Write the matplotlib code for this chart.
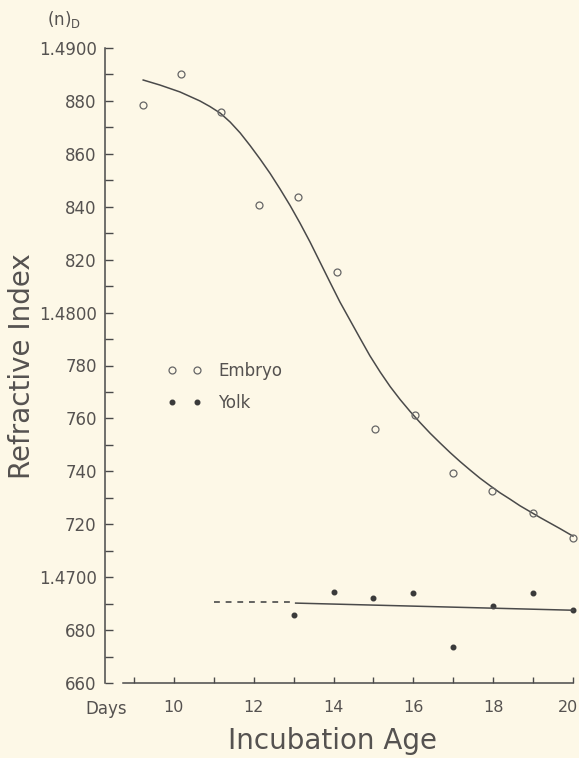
import matplotlib
matplotlib.use("Agg")
import matplotlib.pyplot as plt
from matplotlib.transforms import ScaledTranslation

# Embryo measurements (open circles)
embryo_days = [9.22, 10.17, 11.18, 12.12, 13.12, 14.08, 15.03, 16.05, 17.0, 17.98, 19.0, 20.0]
embryo_ri = [1.48784, 1.48902, 1.48758, 1.48406, 1.48437, 1.48153,
             1.47560, 1.47613, 1.47393, 1.47325, 1.47242, 1.47148]

# Smooth curve drawn through the embryo values
curve_days = [9.23, 9.65, 10.15, 10.65, 10.90, 11.16, 11.41, 11.66, 11.91, 12.16,
              12.41, 12.66, 12.91, 13.16, 13.41, 13.66, 13.91, 14.16, 14.41, 14.66,
              14.91, 15.17, 15.42, 15.67, 15.92, 16.17, 16.42, 16.67, 16.92, 17.17,
              17.42, 17.67, 17.92, 18.17, 18.42, 18.67, 18.92, 19.18, 19.43, 19.68,
              20.0]
curve_ri = [1.48879, 1.48860, 1.48834, 1.48800, 1.48779, 1.48754, 1.48720, 1.48679,
            1.48631, 1.48580, 1.48526, 1.48467, 1.48405, 1.48338, 1.48267, 1.48191,
            1.48115, 1.48040, 1.47972, 1.47904, 1.47837, 1.47775, 1.47720, 1.47671,
            1.47626, 1.47584, 1.47544, 1.47507, 1.47471, 1.47437, 1.47405, 1.47374,
            1.47346, 1.47319, 1.47295, 1.47270, 1.47248, 1.47225, 1.47204, 1.47183,
            1.47155]

# Yolk measurements (filled dots)
yolk_days = [13, 14, 15, 16, 17, 18, 19, 20]
yolk_ri = [1.46856, 1.46943, 1.46921, 1.46940, 1.46735, 1.46890, 1.46940, 1.46875]

# Yolk fit line: dashed part and solid part
yolk_dash_days = [11.0, 13.0]
yolk_dash_ri = [1.46905, 1.46905]
yolk_fit_days = [13.05, 20.0]
yolk_fit_ri = [1.46902, 1.46875]

ytick_vals = [1.490, 1.488, 1.486, 1.484, 1.482, 1.480, 1.478, 1.476, 1.474,
              1.472, 1.470, 1.468, 1.466]
ytick_labels = ["1.4900", "880", "860", "840", "820", "1.4800", "780", "760",
                "740", "720", "1.4700", "680", "660"]
xtick_vals = list(range(9, 21))
xtick_labels = ["", "10", "", "12", "", "14", "", "16", "", "18", "", "20"]

BG = "#FDF8E7"
INK = "#4a4a4a"
TXT = "#555250"

W, H = 579, 758
fig = plt.figure(figsize=(W / 100, H / 100), dpi=100, facecolor=BG)
left, right, bottom, top = 105, 573, 683, 48
ax = fig.add_axes([left / W, (H - bottom) / H, (right - left) / W, (bottom - top) / H])
ax.set_facecolor(BG)

ax.plot(curve_days, curve_ri, color=INK, lw=1.1, clip_on=False)
ax.plot(embryo_days, embryo_ri, "o", ms=5, mfc="none", mec="#666666", mew=0.9,
        clip_on=False, label="Embryo")
ax.plot(yolk_days, yolk_ri, "o", ms=3.3, color="#3a3a3a", clip_on=False, label="Yolk")
ax.plot(yolk_dash_days, yolk_dash_ri, color=INK, lw=1.2, dashes=(3.5, 3.5))
ax.plot(yolk_fit_days, yolk_fit_ri, color=INK, lw=1.1, clip_on=False)

ax.set_xlim(8.273, 20.0)
ax.set_ylim(1.466, 1.490)

for s in ["top", "right"]:
    ax.spines[s].set_visible(False)
ax.spines["left"].set_color(INK)
ax.spines["left"].set_linewidth(1.1)
ax.spines["bottom"].set_color(INK)
ax.spines["bottom"].set_linewidth(1.1)
ax.spines["bottom"].set_bounds(8.72, 20.0)

ax.set_yticks(ytick_vals)
ax.set_yticklabels(ytick_labels)
ax.set_yticks([v + 0.001 for v in ytick_vals[1:]], minor=True)
ax.tick_params(axis="y", which="both", direction="in", length=6, width=1.0,
               color=INK, labelsize=12, labelcolor=TXT, pad=6)
ax.set_xticks(xtick_vals)
ax.set_xticklabels(xtick_labels)
ax.tick_params(axis="x", which="both", direction="in", length=4, width=1.0,
               color=INK, labelsize=11.5, labelcolor=TXT, pad=12)
# keep the last label ("20") inside the picture
last = ax.get_xticklabels()[-1]
last.set_transform(last.get_transform() + ScaledTranslation(-5 / 100, 0, fig.dpi_scale_trans))

fig.text(106 / W, (H - 709) / H, "Days", ha="center", va="center",
         fontsize=12, color=TXT)
fig.text(64 / W, (H - 20) / H, r"(n)$_\mathrm{D}$", ha="center", va="center",
         fontsize=12, color=TXT)
fig.text(332 / W, (H - 741) / H, "Incubation Age", ha="center", va="center",
         fontsize=20, color=TXT)
fig.text(22 / W, (H - 366) / H, "Refractive Index", ha="center", va="center",
         rotation=90, fontsize=20, color=TXT)

ax.legend(loc="upper left", bbox_to_anchor=(0.132, 0.505), numpoints=2,
          frameon=False, fontsize=12, handlelength=2.1, handletextpad=1.0,
          labelspacing=0.8, borderpad=0, borderaxespad=0, labelcolor=TXT)

fig.savefig("out.png", dpi=100, facecolor=BG)
